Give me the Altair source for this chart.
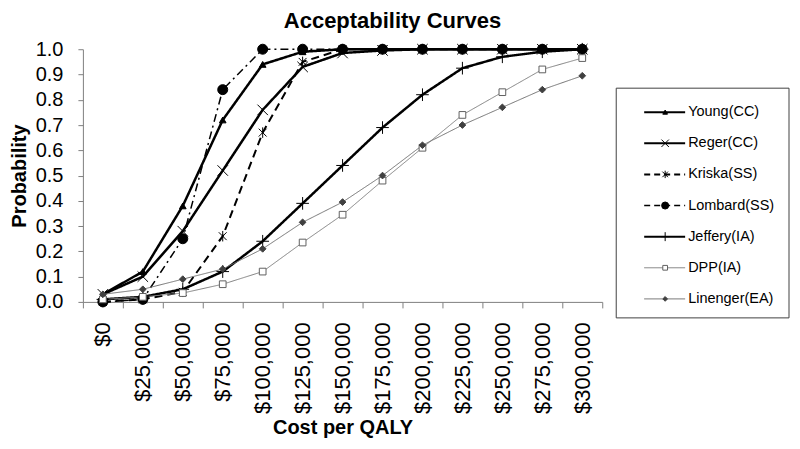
import altair as alt
import pandas as pd

costs = ["$0", "$25,000", "$50,000", "$75,000", "$100,000", "$125,000", "$150,000",
         "$175,000", "$200,000", "$225,000", "$250,000", "$275,000", "$300,000"]
series_names = ["Young(CC)", "Reger(CC)", "Kriska(SS)", "Lombard(SS)",
                "Jeffery(IA)", "DPP(IA)", "Linenger(EA)"]

young = [0.03, 0.12, 0.38, 0.72, 0.94, 0.99, 1.0, 1.0, 1.0, 1.0, 1.0, 1.0, 1.0]
reger = [0.03, 0.10, 0.28, 0.52, 0.76, 0.93, 0.985, 0.995, 1.0, 1.0, 1.0, 1.0, 1.0]
kriska = [0.0, 0.01, 0.04, 0.26, 0.67, 0.95, 1.0, 1.0, 1.0, 1.0, 1.0, 1.0, 1.0]
lombard = [0.0, 0.01, 0.25, 0.84, 1.0, 1.0, 1.0, 1.0, 1.0, 1.0, 1.0, 1.0, 1.0]
jeffery = [0.01, 0.02, 0.05, 0.12, 0.24, 0.39, 0.54, 0.69, 0.82, 0.925, 0.97, 0.99, 1.0]
dpp = [0.01, 0.02, 0.035, 0.07, 0.12, 0.235, 0.345, 0.48, 0.61, 0.74, 0.83, 0.92, 0.965]
linenger = [0.03, 0.05, 0.09, 0.13, 0.21, 0.315, 0.395, 0.50, 0.62, 0.70, 0.77, 0.84, 0.895]

values = [young, reger, kriska, lombard, jeffery, dpp, linenger]

FONT = "Liberation Sans"
X_PATH = "M-1,-1L1,1M-1,1L1,-1"
PLUS_PATH = "M-1,0L1,0M0,-1L0,1"
STAR_PATH = "M-0.75,-0.75L0.75,0.75M-0.75,0.75L0.75,-0.75M0,-1L0,1"

styles = {
    "Young(CC)": dict(color="black", width=2.5, dash=[1, 0], shape="triangle-up", size=45,
                      filled=True, fill="black", stroke="black"),
    "Reger(CC)": dict(color="black", width=2.5, dash=[1, 0], shape=X_PATH, size=110,
                      filled=False, fill="black", stroke="black"),
    "Kriska(SS)": dict(color="black", width=2, dash=[8, 5], shape=STAR_PATH, size=110,
                       filled=False, fill="black", stroke="black"),
    "Lombard(SS)": dict(color="black", width=1.5, dash=[8, 4, 2, 4], shape="circle", size=100,
                        filled=True, fill="black", stroke="black"),
    "Jeffery(IA)": dict(color="black", width=2.5, dash=[1, 0], shape=PLUS_PATH, size=160,
                        filled=False, fill="black", stroke="black"),
    "DPP(IA)": dict(color="#808080", width=1, dash=[1, 0], shape="square", size=45,
                    filled=True, fill="white", stroke="#606060"),
    "Linenger(EA)": dict(color="#707070", width=1, dash=[1, 0], shape="diamond", size=45,
                         filled=True, fill="#404040", stroke="#404040"),
}

x_enc = alt.X(
    "cost:O", sort=costs,
    scale=alt.Scale(type="band", domain=costs, paddingInner=0, paddingOuter=0),
    bandPosition=0.5,
    axis=alt.Axis(title="Cost per QALY", titleFontSize=20, titleFontWeight="bold", titleFont=FONT,
                  titleColor="black",
                  labelAngle=270, labelFontSize=22, labelFont=FONT, labelColor="black",
                  tickBand="extent", tickSize=6, labelPadding=14, grid=False,
                  domainColor="#808080", tickColor="#808080", titlePadding=4),
)
y_enc = alt.Y(
    "prob:Q",
    scale=alt.Scale(domain=[0, 1], nice=False, zero=True),
    axis=alt.Axis(title="Probability", titleFontSize=20, titleFontWeight="bold", titleFont=FONT,
                  titleColor="black",
                  values=[i / 10 for i in range(11)], format=".1f", labelFontSize=20,
                  labelFont=FONT, labelColor="black", tickSize=5, labelPadding=15, grid=False,
                  domainColor="#808080", tickColor="#808080", titlePadding=6),
)

data_layers = []
for name, vals in zip(series_names, values):
    s = styles[name]
    df = pd.DataFrame({"cost": costs, "prob": vals, "series": name})
    data_layers.append(
        alt.Chart(df).mark_line(color=s["color"], strokeWidth=s["width"], strokeDash=s["dash"])
        .encode(x=x_enc, y=y_enc)
    )
for name, vals in zip(series_names, values):
    s = styles[name]
    df = pd.DataFrame({"cost": costs, "prob": vals, "series": name})
    data_layers.append(
        alt.Chart(df).mark_point(shape=s["shape"], size=s["size"], filled=s["filled"],
                                 fill=s["fill"], stroke=s["stroke"], strokeWidth=1,
                                 opacity=1)
        .encode(x=x_enc, y=y_enc)
    )

leg_scale = alt.Scale(type="point", domain=series_names, range=[63, 250], padding=0)
box_df = pd.DataFrame({"k": [0]})
legend_layers = [
    alt.Chart(box_df).mark_rect(fill="white", stroke="#404040", strokeWidth=1).encode(
        x=alt.value(534), x2=alt.value(707), y=alt.value(39), y2=alt.value(269))
]
for name in series_names:
    s = styles[name]
    df = pd.DataFrame({"series": [name]})
    yl = alt.Y("series:N", scale=leg_scale, axis=None)
    legend_layers.append(
        alt.Chart(df).mark_rule(color=s["color"], strokeWidth=min(s["width"], 2),
                                strokeDash=[6, 4] if name in ("Kriska(SS)", "Lombard(SS)") else [1, 0])
        .encode(x=alt.value(562), x2=alt.value(603), y=yl)
    )
    legend_layers.append(
        alt.Chart(df).mark_point(shape=s["shape"], size=s["size"] * 0.5, filled=s["filled"],
                                 fill=s["fill"], stroke=s["stroke"], strokeWidth=1, opacity=1)
        .encode(x=alt.value(583), y=yl)
    )
    legend_layers.append(
        alt.Chart(df).mark_text(align="left", baseline="middle", fontSize=14.5, font=FONT,
                                color="black")
        .encode(x=alt.value(606), y=yl, text="series:N")
    )

chart = (
    alt.layer(alt.layer(*data_layers), alt.layer(*legend_layers))
    .resolve_scale(y="independent")
    .properties(
        width=520, height=253,
        title=alt.TitleParams("Acceptability Curves", fontSize=22, font=FONT,
                              fontWeight="bold", offset=6, anchor="middle", dx=50,
                              color="black"),
        autosize=alt.AutoSizeParams(type="none"),
        padding={"left": 75, "top": 41, "right": 190, "bottom": 139},
    )
    .configure_view(stroke=None)
)

chart.save("out.html", embed_options={"renderer": "svg", "actions": False})
